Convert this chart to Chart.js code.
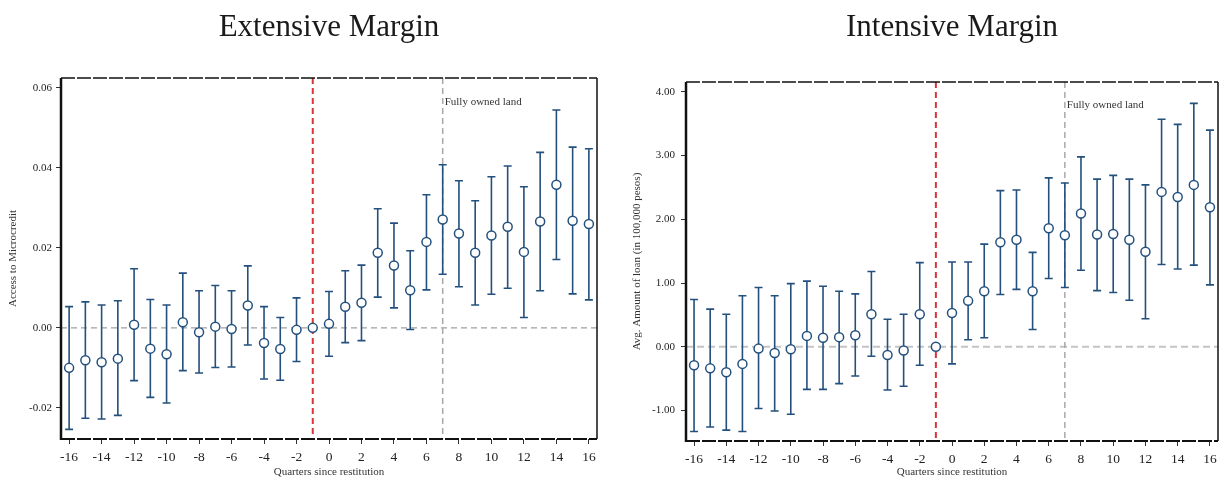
<!DOCTYPE html>
<html>
<head>
<meta charset="utf-8">
<script src="https://cdn.jsdelivr.net/npm/chart.js@4.4.0/dist/chart.umd.min.js"></script>
<style>
  body { margin: 0; background: #fff; }
  #wrap { position: relative; width: 1225px; height: 480px; }
  .box { position: absolute; top: 0; height: 480px; }
</style>
</head>
<body>
<div id="wrap">
  <div class="box" style="left:0;width:612px"><canvas id="ext" width="612" height="480"></canvas></div>
  <div class="box" style="left:612px;width:613px"><canvas id="int" width="613" height="480"></canvas></div>
</div>
<script>
// quarters since restitution
var quarters = [-16,-15,-14,-13,-12,-11,-10,-9,-8,-7,-6,-5,-4,-3,-2,-1,0,1,2,3,4,5,6,7,8,9,10,11,12,13,14,15,16];
var xTicks = [-16,-14,-12,-10,-8,-6,-4,-2,0,2,4,6,8,10,12,14,16];
var restitutionQuarter = -1;
var landQuarter = 7;

// Extensive margin: access to microcredit
var extCoef = [-0.0100,-0.0081,-0.0086,-0.0077,0.0008,-0.0052,-0.0066,0.0014,-0.0011,0.0003,-0.0003,0.0056,-0.0038,-0.0053,-0.0005,0.0000,
               0.0010,0.0053,0.0063,0.0188,0.0156,0.0094,0.0215,0.0271,0.0236,0.0188,0.0231,0.0253,0.0190,0.0266,0.0358,0.0268,0.0260];
var extHi = [0.0053,0.0065,0.0057,0.0068,0.0148,0.0071,0.0057,0.0137,0.0093,0.0106,0.0093,0.0155,0.0053,0.0026,0.0075,null,
             0.0091,0.0143,0.0157,0.0298,0.0262,0.0193,0.0333,0.0408,0.0368,0.0318,0.0378,0.0405,0.0353,0.0439,0.0545,0.0452,0.0448];
var extLo = [-0.0254,-0.0226,-0.0228,-0.0219,-0.0132,-0.0174,-0.0188,-0.0107,-0.0113,-0.0099,-0.0098,-0.0043,-0.0128,-0.0131,-0.0084,null,
             -0.0071,-0.0037,-0.0032,0.0077,0.0050,-0.0004,0.0095,0.0134,0.0103,0.0057,0.0084,0.0099,0.0026,0.0093,0.0171,0.0085,0.0070];
var extYTicks = [-0.02,0,0.02,0.04,0.06];

// Intensive margin: avg. amount of loan
var intCoef = [-0.29,-0.34,-0.40,-0.27,-0.03,-0.10,-0.04,0.17,0.14,0.15,0.18,0.51,-0.13,-0.06,0.51,0.00,
               0.53,0.72,0.87,1.64,1.68,0.87,1.86,1.75,2.09,1.76,1.77,1.68,1.49,2.43,2.35,2.54,2.19];
var intHi = [0.74,0.59,0.51,0.80,0.93,0.80,0.99,1.03,0.95,0.87,0.83,1.18,0.43,0.51,1.32,null,
             1.33,1.33,1.61,2.45,2.46,1.48,2.65,2.57,2.98,2.63,2.69,2.63,2.54,3.57,3.49,3.82,3.40];
var intLo = [-1.33,-1.26,-1.31,-1.33,-0.97,-1.01,-1.06,-0.67,-0.67,-0.58,-0.46,-0.15,-0.68,-0.62,-0.29,null,
             -0.27,0.11,0.14,0.82,0.90,0.27,1.07,0.93,1.20,0.88,0.85,0.73,0.44,1.29,1.22,1.28,0.97];
var intYTicks = [-1,0,1,2,3,4];

var serif = '"Liberation Serif", "DejaVu Serif", serif';
var blue = '#24507d';

// reference lines, error bars, frame and title
var marksPlugin = {
  id: 'marks',
  beforeDatasetsDraw: function(chart, args, o) {
    var ctx = chart.ctx, a = chart.chartArea;
    var xs = chart.scales.x, ys = chart.scales.y;
    ctx.save();

    // zero line
    var y0 = ys.getPixelForValue(0);
    ctx.setLineDash(o.zeroDash);
    ctx.strokeStyle = o.zeroColor;
    ctx.lineWidth = o.zeroWidth;
    ctx.beginPath(); ctx.moveTo(a.left, y0); ctx.lineTo(a.right, y0); ctx.stroke();

    // fully owned land line
    var xl = xs.getPixelForValue(landQuarter);
    ctx.setLineDash([6, 4]);
    ctx.strokeStyle = '#a8a8a8';
    ctx.lineWidth = 1.5;
    ctx.beginPath(); ctx.moveTo(xl, a.top); ctx.lineTo(xl, a.bottom); ctx.stroke();

    // restitution line
    var xr = xs.getPixelForValue(restitutionQuarter);
    ctx.strokeStyle = '#d8343a';
    ctx.lineWidth = 2;
    ctx.beginPath(); ctx.moveTo(xr, a.top); ctx.lineTo(xr, a.bottom); ctx.stroke();

    ctx.setLineDash([]);
    ctx.font = '11px ' + serif;
    ctx.fillStyle = '#333';
    ctx.textBaseline = 'middle';
    ctx.textAlign = 'left';
    ctx.fillText('Fully owned land', xl + 2, a.top + o.labelOffset);

    // confidence intervals
    ctx.strokeStyle = blue;
    ctx.lineWidth = 1.6;
    quarters.forEach(function(q, i) {
      if (o.lo[i] == null) return;
      var x = xs.getPixelForValue(q);
      var yl = ys.getPixelForValue(o.lo[i]);
      var yh = ys.getPixelForValue(o.hi[i]);
      ctx.beginPath();
      ctx.moveTo(x, yl); ctx.lineTo(x, yh);
      ctx.moveTo(x - 4, yl); ctx.lineTo(x + 4, yl);
      ctx.moveTo(x - 4, yh); ctx.lineTo(x + 4, yh);
      ctx.stroke();
    });
    ctx.restore();
  },
  afterDraw: function(chart, args, o) {
    var ctx = chart.ctx, a = chart.chartArea;
    ctx.save();
    ctx.strokeStyle = '#111';
    // left
    ctx.lineWidth = 2.5;
    ctx.beginPath(); ctx.moveTo(a.left, a.top); ctx.lineTo(a.left, a.bottom + 1); ctx.stroke();
    // right
    ctx.lineWidth = 1.5;
    ctx.beginPath(); ctx.moveTo(a.right, a.top); ctx.lineTo(a.right, a.bottom); ctx.stroke();
    // top and bottom, broken
    ctx.setLineDash([14, 2]);
    ctx.lineWidth = 1.5;
    ctx.beginPath(); ctx.moveTo(a.left, a.top); ctx.lineTo(a.right, a.top); ctx.stroke();
    ctx.lineWidth = 2;
    ctx.beginPath(); ctx.moveTo(a.left, a.bottom); ctx.lineTo(a.right, a.bottom); ctx.stroke();
    ctx.setLineDash([]);

    // title
    ctx.font = '31px ' + serif;
    ctx.fillStyle = '#1a1a1a';
    ctx.textAlign = 'center';
    ctx.textBaseline = 'middle';
    ctx.fillText(o.title, (a.left + a.right) / 2, 28);
    ctx.restore();
  }
};

function makeChart(id, s) {
  var pts = quarters.map(function(q, i) { return { x: q, y: s.coef[i] }; });
  return new Chart(document.getElementById(id), {
    type: 'scatter',
    data: {
      datasets: [{
        data: pts,
        pointRadius: 4.5,
        pointHoverRadius: 4.5,
        pointBackgroundColor: '#fff',
        pointBorderColor: blue,
        pointBorderWidth: 1.5
      }]
    },
    options: {
      responsive: false,
      animation: false,
      layout: { padding: { top: s.top, right: s.right, left: 0, bottom: 0 } },
      plugins: {
        legend: { display: false },
        tooltip: { enabled: false },
        marks: {
          title: s.title, lo: s.lo, hi: s.hi,
          zeroDash: s.zeroDash, zeroColor: s.zeroColor, zeroWidth: s.zeroWidth,
          labelOffset: s.labelOffset
        }
      },
      scales: {
        x: {
          type: 'linear',
          min: -16.5, max: 16.5,
          afterBuildTicks: function(sc) { sc.ticks = xTicks.map(function(v) { return { value: v }; }); },
          afterFit: function(sc) { sc.height = 480 - s.bottom; },
          border: { display: false },
          grid: { drawOnChartArea: false, tickLength: 5, color: '#333' },
          ticks: { font: { family: serif, size: 13.5 }, color: '#222', padding: 5, maxRotation: 0, autoSkip: false },
          title: { display: true, text: 'Quarters since restitution', font: { family: serif, size: 11 }, color: '#333', padding: { top: 0, bottom: 1 } }
        },
        y: {
          min: s.ymin, max: s.ymax,
          afterBuildTicks: function(sc) { sc.ticks = s.yTicks.map(function(v) { return { value: v }; }); },
          afterFit: function(sc) { sc.width = s.left; },
          border: { display: false },
          grid: { drawOnChartArea: false, tickLength: 5, color: '#333' },
          ticks: {
            font: { family: serif, size: 11 }, color: '#222', padding: s.tickPad,
            callback: function(v) { return v.toFixed(2); }
          },
          title: { display: true, text: s.yTitle, font: { family: serif, size: 11 }, color: '#333', padding: { top: s.titlePad, bottom: 0 } }
        }
      }
    },
    plugins: [marksPlugin]
  });
}

makeChart('ext', {
  title: 'Extensive Margin', yTitle: 'Access to Microcredit',
  coef: extCoef, lo: extLo, hi: extHi, yTicks: extYTicks,
  ymin: -0.0278, ymax: 0.0625,
  left: 61, top: 78, right: 612 - 597, bottom: 439,
  tickPad: 4, titlePad: 7,
  zeroDash: [6, 4], zeroColor: '#a0a0a0', zeroWidth: 1.2, labelOffset: 24
});

makeChart('int', {
  title: 'Intensive Margin', yTitle: 'Avg. Amount of loan (in 100,000 pesos)',
  coef: intCoef, lo: intLo, hi: intHi, yTicks: intYTicks,
  ymin: -1.48, ymax: 4.155,
  left: 74, top: 82, right: 613 - 606, bottom: 441,
  tickPad: 6, titlePad: 19,
  zeroDash: [7, 4], zeroColor: '#c4c4c4', zeroWidth: 2, labelOffset: 23
});
</script>
</body>
</html>
